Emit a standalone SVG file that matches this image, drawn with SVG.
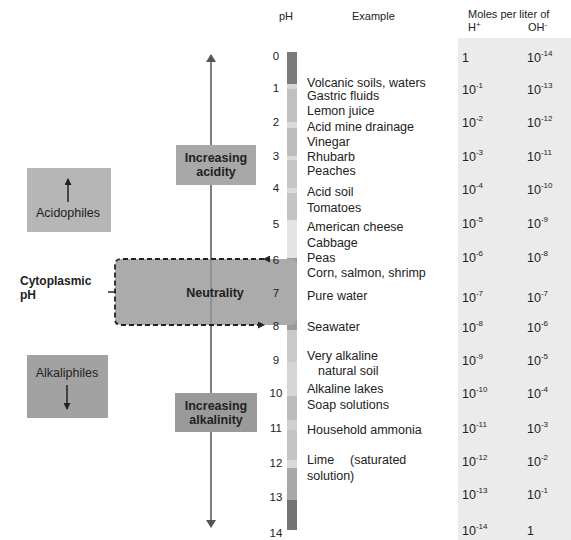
<svg xmlns="http://www.w3.org/2000/svg" width="571" height="540" viewBox="0 0 571 540">
<style>
text{font-family:"Liberation Sans",Arial,sans-serif;fill:#222}
.hd{font-size:11px}
.ph{font-size:11.5px;text-anchor:middle}
.ex{font-size:12.5px}
.v{font-size:12.5px}
.sup{font-size:8px}
.bx{font-size:12.5px;font-weight:bold;text-anchor:middle}
.lb{font-size:12.5px;text-anchor:middle}
.ln{stroke:#555;stroke-width:1.5;fill:none}
</style>
<defs>
<marker id="ah" markerWidth="8" markerHeight="10" refX="7" refY="5" orient="auto" markerUnits="userSpaceOnUse">
<path d="M0,0 L8,5 L0,10 Z" fill="#555"/>
</marker>
<marker id="ahd" markerWidth="7" markerHeight="7" refX="6" refY="3.5" orient="auto" markerUnits="userSpaceOnUse">
<path d="M0,0 L7,3.5 L0,7 Z" fill="#222"/>
</marker>
</defs>
<rect x="458" y="38" width="113" height="502" fill="#ebebeb"/>
<g id="headers">
<text class="hd" x="279" y="20">pH</text>
<text class="hd" x="352" y="20">Example</text>
<text class="hd" x="468" y="18">Moles per liter of</text>
<text class="hd" x="468" y="31">H<tspan class="sup" dy="-4">+</tspan></text>
<text class="hd" x="528" y="31">OH<tspan class="sup" dy="-4">-</tspan></text>
</g>
<g id="ph-bar">
<rect x="287" y="52" width="10" height="32" fill="#7a7a7a"/>
<rect x="287" y="84" width="10" height="5" fill="#d6d6d6"/>
<rect x="287" y="89" width="10" height="33" fill="#c0c0c0"/>
<rect x="287" y="122" width="10" height="6" fill="#dadada"/>
<rect x="287" y="128" width="10" height="28" fill="#bdbdbd"/>
<rect x="287" y="156" width="10" height="4" fill="#dadada"/>
<rect x="287" y="160" width="10" height="28" fill="#c6c6c6"/>
<rect x="287" y="188" width="10" height="5" fill="#dcdcdc"/>
<rect x="287" y="193" width="10" height="27" fill="#c4c4c4"/>
<rect x="287" y="220" width="10" height="38" fill="#e4e4e4"/>
<rect x="287" y="258" width="10" height="72" fill="#9a9a9a"/>
<rect x="287" y="330" width="10" height="32" fill="#cacaca"/>
<rect x="287" y="362" width="10" height="34" fill="#d6d6d6"/>
<rect x="287" y="396" width="10" height="24" fill="#bcbcbc"/>
<rect x="287" y="420" width="10" height="10" fill="#d0d0d0"/>
<rect x="287" y="430" width="10" height="30" fill="#c4c4c4"/>
<rect x="287" y="460" width="10" height="8" fill="#dadada"/>
<rect x="287" y="468" width="10" height="32" fill="#a8a8a8"/>
<rect x="287" y="500" width="10" height="30" fill="#747474"/>
</g>
<g id="examples">
<text class="ex" x="307" y="87">Volcanic soils, waters</text>
<text class="ex" x="307" y="100">Gastric fluids</text>
<text class="ex" x="307" y="115">Lemon juice</text>
<text class="ex" x="307" y="131">Acid mine drainage</text>
<text class="ex" x="307" y="146">Vinegar</text>
<text class="ex" x="307" y="161">Rhubarb</text>
<text class="ex" x="307" y="175">Peaches</text>
<text class="ex" x="307" y="196">Acid soil</text>
<text class="ex" x="307" y="212">Tomatoes</text>
<text class="ex" x="307" y="231">American cheese</text>
<text class="ex" x="307" y="247">Cabbage</text>
<text class="ex" x="307" y="262">Peas</text>
<text class="ex" x="307" y="277">Corn, salmon, shrimp</text>
<text class="ex" x="307" y="300">Pure water</text>
<text class="ex" x="307" y="331">Seawater</text>
<text class="ex" x="307" y="360">Very alkaline</text>
<text class="ex" x="318" y="375">natural soil</text>
<text class="ex" x="307" y="393">Alkaline lakes</text>
<text class="ex" x="307" y="409">Soap solutions</text>
<text class="ex" x="307" y="434">Household ammonia</text>
<text class="ex" x="307" y="464">Lime<tspan x="350">(saturated</tspan></text>
<text class="ex" x="307" y="480">solution)</text>
</g>
<g id="h-values">
<text class="v" x="462" y="62">1</text>
<text class="v" x="462" y="94">10<tspan class="sup" dy="-6">-1</tspan></text>
<text class="v" x="462" y="127">10<tspan class="sup" dy="-6">-2</tspan></text>
<text class="v" x="462" y="161">10<tspan class="sup" dy="-6">-3</tspan></text>
<text class="v" x="462" y="194">10<tspan class="sup" dy="-6">-4</tspan></text>
<text class="v" x="462" y="228">10<tspan class="sup" dy="-6">-5</tspan></text>
<text class="v" x="462" y="262">10<tspan class="sup" dy="-6">-6</tspan></text>
<text class="v" x="462" y="302">10<tspan class="sup" dy="-6">-7</tspan></text>
<text class="v" x="462" y="332">10<tspan class="sup" dy="-6">-8</tspan></text>
<text class="v" x="462" y="365">10<tspan class="sup" dy="-6">-9</tspan></text>
<text class="v" x="462" y="398">10<tspan class="sup" dy="-6">-10</tspan></text>
<text class="v" x="462" y="433">10<tspan class="sup" dy="-6">-11</tspan></text>
<text class="v" x="462" y="466">10<tspan class="sup" dy="-6">-12</tspan></text>
<text class="v" x="462" y="499">10<tspan class="sup" dy="-6">-13</tspan></text>
<text class="v" x="462" y="535">10<tspan class="sup" dy="-6">-14</tspan></text>
</g>
<g id="oh-values">
<text class="v" x="527" y="62">10<tspan class="sup" dy="-6">-14</tspan></text>
<text class="v" x="527" y="94">10<tspan class="sup" dy="-6">-13</tspan></text>
<text class="v" x="527" y="127">10<tspan class="sup" dy="-6">-12</tspan></text>
<text class="v" x="527" y="161">10<tspan class="sup" dy="-6">-11</tspan></text>
<text class="v" x="527" y="194">10<tspan class="sup" dy="-6">-10</tspan></text>
<text class="v" x="527" y="228">10<tspan class="sup" dy="-6">-9</tspan></text>
<text class="v" x="527" y="262">10<tspan class="sup" dy="-6">-8</tspan></text>
<text class="v" x="527" y="302">10<tspan class="sup" dy="-6">-7</tspan></text>
<text class="v" x="527" y="332">10<tspan class="sup" dy="-6">-6</tspan></text>
<text class="v" x="527" y="365">10<tspan class="sup" dy="-6">-5</tspan></text>
<text class="v" x="527" y="398">10<tspan class="sup" dy="-6">-4</tspan></text>
<text class="v" x="527" y="433">10<tspan class="sup" dy="-6">-3</tspan></text>
<text class="v" x="527" y="466">10<tspan class="sup" dy="-6">-2</tspan></text>
<text class="v" x="527" y="499">10<tspan class="sup" dy="-6">-1</tspan></text>
<text class="v" x="527" y="535">1</text>
</g>
<g id="connectors">
<line class="ln" x1="211" y1="280" x2="211" y2="55" marker-end="url(#ah)"/>
<line class="ln" x1="211" y1="280" x2="211" y2="527" marker-end="url(#ah)"/>
</g>
<g id="neutrality">
<rect x="115" y="259" width="182" height="66" rx="6" fill="#ababab"/>
<line x1="211" y1="259" x2="211" y2="325" stroke="#8a8a8a" stroke-width="1.5"/>
<path d="M264,259 H121 Q115,259 115,265 V319 Q115,325 121,325 H264" fill="none" stroke="#222" stroke-width="1.8" stroke-dasharray="5,3" marker-start="url(#ahd)" marker-end="url(#ahd)"/>
<text class="bx" x="215" y="297">Neutrality</text>
</g>
<g id="ph-numbers">
<text class="ph" x="276" y="60">0</text>
<text class="ph" x="276" y="92">1</text>
<text class="ph" x="276" y="126">2</text>
<text class="ph" x="276" y="160">3</text>
<text class="ph" x="276" y="192">4</text>
<text class="ph" x="276" y="228">5</text>
<text class="ph" x="276" y="264">6</text>
<text class="ph" x="276" y="297">7</text>
<text class="ph" x="276" y="330">8</text>
<text class="ph" x="276" y="364">9</text>
<text class="ph" x="276" y="397">10</text>
<text class="ph" x="276" y="432">11</text>
<text class="ph" x="276" y="467">12</text>
<text class="ph" x="276" y="501">13</text>
<text class="ph" x="276" y="537">14</text>
</g>
<g id="increasing-acidity">
<rect x="176" y="145" width="80" height="40" fill="#a8a8a8"/>
<text class="bx" x="216" y="162">Increasing</text>
<text class="bx" x="216" y="176">acidity</text>
</g>
<g id="increasing-alkalinity">
<rect x="175" y="393" width="82" height="39" fill="#9a9a9a"/>
<text class="bx" x="216" y="410">Increasing</text>
<text class="bx" x="216" y="424">alkalinity</text>
</g>
<g id="acidophiles">
<rect x="27" y="168" width="84" height="64" fill="#b6b6b6"/>
<line x1="68" y1="202" x2="68" y2="179" stroke="#222" stroke-width="1.5" marker-end="url(#ahd)"/>
<text class="lb" x="68" y="217">Acidophiles</text>
</g>
<g id="alkaliphiles">
<rect x="27" y="355" width="81" height="63" fill="#a2a2a2"/>
<text class="lb" x="67" y="377">Alkaliphiles</text>
<line x1="67" y1="385" x2="67" y2="409" stroke="#222" stroke-width="1.5" marker-end="url(#ahd)"/>
</g>
<g id="cytoplasmic">
<text x="20" y="285" font-size="12" font-weight="bold">Cytoplasmic</text>
<text x="20" y="299" font-size="12" font-weight="bold">pH</text>
<line x1="108" y1="292" x2="116" y2="292" stroke="#222" stroke-width="1.5"/>
</g>
</svg>
